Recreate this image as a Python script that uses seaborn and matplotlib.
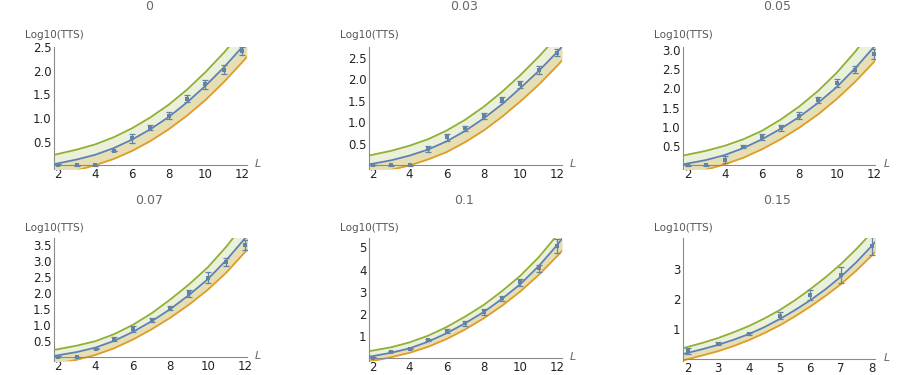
import numpy as np
import pandas as pd
import matplotlib
matplotlib.use('Agg')
import matplotlib.pyplot as plt
import seaborn as sns
from matplotlib.ticker import MultipleLocator, FormatStrFormatter

# measured points (L, log10 TTS, error)
L_pts = [2, 3, 4, 5, 6, 7, 8, 9, 10, 11, 12]
L_pts_15 = [2, 3, 4, 5, 6, 7, 8]

tts_000 = [0.01, 0.0, 0.0, 0.30, 0.57, 0.79, 1.05, 1.41, 1.71, 2.02, 2.41]
err_000 = [0.01, 0.01, 0.01, 0.01, 0.10, 0.05, 0.07, 0.08, 0.09, 0.09, 0.08]
tts_003 = [0.01, 0.0, 0.0, 0.38, 0.65, 0.86, 1.15, 1.53, 1.88, 2.21, 2.62]
err_003 = [0.01, 0.01, 0.01, 0.07, 0.08, 0.06, 0.07, 0.06, 0.09, 0.09, 0.09]
tts_005 = [0.0, 0.0, 0.15, 0.48, 0.74, 0.97, 1.29, 1.70, 2.14, 2.48, 2.89]
err_005 = [0.01, 0.01, 0.10, 0.04, 0.07, 0.09, 0.09, 0.08, 0.11, 0.09, 0.12]
tts_007 = [0.02, 0.0, 0.27, 0.56, 0.87, 1.16, 1.54, 1.99, 2.48, 2.96, 3.50]
err_007 = [0.01, 0.01, 0.03, 0.06, 0.09, 0.05, 0.06, 0.11, 0.17, 0.13, 0.16]
tts_010 = [0.03, 0.30, 0.44, 0.83, 1.23, 1.58, 2.10, 2.70, 3.43, 4.06, 5.07]
err_010 = [0.02, 0.03, 0.02, 0.05, 0.08, 0.12, 0.14, 0.12, 0.15, 0.15, 0.30]
tts_015 = [0.27, 0.50, 0.84, 1.45, 2.14, 2.80, 3.78]
err_015 = [0.10, 0.05, 0.03, 0.13, 0.17, 0.27, 0.30]

# fitted curves: upper (green), middle (blue), lower (orange)
L_curve = [1.8, 2, 3, 4, 5, 6, 7, 8, 9, 10, 11, 12, 12.25]
L_curve_15 = [1.85, 2, 2.5, 3, 3.5, 4, 4.5, 5, 5.5, 6, 6.5, 7, 7.5, 8, 8.15]

hi_000 = [0.22, 0.24, 0.33, 0.44, 0.59, 0.78, 1.01, 1.28, 1.60, 1.97, 2.38, 2.84, 2.96]
mid_000 = [0.025, 0.04, 0.12, 0.22, 0.36, 0.54, 0.76, 1.02, 1.33, 1.68, 2.07, 2.50, 2.61]
lo_000 = [-0.22, -0.20, -0.11, 0.0, 0.13, 0.30, 0.51, 0.76, 1.05, 1.38, 1.76, 2.18, 2.29]

hi_003 = [0.23, 0.25, 0.34, 0.46, 0.61, 0.81, 1.06, 1.36, 1.71, 2.10, 2.53, 3.00, 3.13]
mid_003 = [0.025, 0.04, 0.12, 0.23, 0.37, 0.56, 0.80, 1.09, 1.42, 1.80, 2.20, 2.64, 2.76]
lo_003 = [-0.23, -0.21, -0.10, 0.0, 0.14, 0.31, 0.54, 0.81, 1.13, 1.49, 1.88, 2.32, 2.44]

hi_005 = [0.26, 0.28, 0.38, 0.51, 0.68, 0.90, 1.19, 1.53, 1.93, 2.40, 2.95, 3.58, 3.74]
mid_005 = [0.03, 0.05, 0.14, 0.27, 0.45, 0.68, 0.95, 1.26, 1.62, 2.03, 2.52, 3.07, 3.22]
lo_005 = [-0.25, -0.22, -0.11, 0.03, 0.20, 0.42, 0.68, 0.98, 1.32, 1.72, 2.17, 2.68, 2.80]

hi_007 = [0.23, 0.25, 0.36, 0.50, 0.72, 1.01, 1.37, 1.80, 2.27, 2.80, 3.45, 4.20, 4.40]
mid_007 = [0.04, 0.06, 0.16, 0.30, 0.51, 0.79, 1.12, 1.50, 1.94, 2.43, 3.03, 3.71, 3.90]
lo_007 = [-0.23, -0.20, -0.08, 0.07, 0.28, 0.55, 0.87, 1.23, 1.64, 2.10, 2.64, 3.28, 3.45]

hi_010 = [0.32, 0.35, 0.50, 0.72, 1.02, 1.41, 1.88, 2.40, 3.03, 3.73, 4.57, 5.57, 5.85]
mid_010 = [0.08, 0.10, 0.25, 0.45, 0.75, 1.13, 1.58, 2.08, 2.68, 3.35, 4.17, 5.12, 5.40]
lo_010 = [-0.15, -0.12, 0.05, 0.25, 0.52, 0.87, 1.30, 1.80, 2.37, 3.02, 3.77, 4.62, 4.85]

hi_015 = [0.36, 0.40, 0.54, 0.70, 0.89, 1.10, 1.35, 1.63, 1.96, 2.33, 2.73, 3.17, 3.67, 4.22, 4.40]
mid_015 = [0.16, 0.20, 0.33, 0.47, 0.64, 0.83, 1.06, 1.33, 1.63, 1.96, 2.33, 2.75, 3.23, 3.77, 3.95]
lo_015 = [-0.05, -0.01, 0.12, 0.26, 0.43, 0.63, 0.86, 1.12, 1.42, 1.75, 2.11, 2.50, 2.95, 3.45, 3.60]

titles = ["0", "0.03", "0.05", "0.07", "0.1", "0.15"]
yticks_a = [0.5, 1.0, 1.5, 2.0, 2.5]
yticks_b = [0.5, 1.0, 1.5, 2.0, 2.5, 3.0]
yticks_c = [0.5, 1.0, 1.5, 2.0, 2.5, 3.0, 3.5]
yticks_d = [1, 2, 3, 4, 5]
yticks_e = [1, 2, 3]

GREEN, BLUE, ORANGE = '#8fb032', '#5e81b5', '#e19c24'
FILL_HI, FILL_LO = '#ebf0da', '#e6dfb3'
PT_COLOR = '#6383a6'

panels = [
    (L_pts, tts_000, err_000, L_curve, hi_000, mid_000, lo_000, (1.78, 12.24), (-0.07, 2.5), 2, 0.5, yticks_a, 0.1),
    (L_pts, tts_003, err_003, L_curve, hi_003, mid_003, lo_003, (1.82, 12.23), (-0.07, 2.75), 2, 0.5, yticks_a, 0.1),
    (L_pts, tts_005, err_005, L_curve, hi_005, mid_005, lo_005, (1.77, 12.06), (-0.08, 3.07), 2, 0.5, yticks_b, 0.1),
    (L_pts, tts_007, err_007, L_curve, hi_007, mid_007, lo_007, (1.79, 12.09), (-0.12, 3.71), 2, 0.5, yticks_c, 0.1),
    (L_pts, tts_010, err_010, L_curve, hi_010, mid_010, lo_010, (1.82, 12.23), (-0.12, 5.41), 2, 0.5, yticks_d, 0.2),
    (L_pts_15, tts_015, err_015, L_curve_15, hi_015, mid_015, lo_015, (1.86, 8.11), (-0.07, 4.03), 1, 0.2, yticks_e, 0.2),
]

sns.set_style("white")
plt.rcParams['font.family'] = ['DejaVu Sans']

W, H = 923, 375
fig = plt.figure(figsize=(W / 100, H / 100), dpi=100)

col_left = [54.3, 369.3, 683.3]
col_right = [246.7, 561.7, 875.0]
row_top = [47.0, 238.3]
row_bottom = [168.5, 361.0]
title_x = [149, 464, 777]
title_y = [7, 200]
ylab_y = [35, 228]

for i, (Lp, yv, ev, Lc, hi, mid, lo, xl, yl, xmaj, xmin, yt, ymin) in enumerate(panels):
    r, c = divmod(i, 3)
    l, rt = col_left[c], col_right[c]
    t, b = row_top[r], row_bottom[r]
    ax = fig.add_axes([l / W, 1 - b / H, (rt - l) / W, (b - t) / H])

    curves = pd.DataFrame({'L': Lc, 'hi': hi, 'mid': mid, 'lo': lo})
    ax.fill_between(curves['L'], curves['mid'], curves['hi'], color=FILL_HI, lw=0, zorder=1)
    ax.fill_between(curves['L'], curves['lo'], curves['mid'], color=FILL_LO, lw=0, zorder=1)
    sns.lineplot(data=curves, x='L', y='hi', color=GREEN, lw=1.3, ax=ax, zorder=2)
    sns.lineplot(data=curves, x='L', y='lo', color=ORANGE, lw=1.3, ax=ax, zorder=2)
    sns.lineplot(data=curves, x='L', y='mid', color=BLUE, lw=1.3, ax=ax, zorder=3)

    pts = pd.DataFrame({'L': Lp, 'tts': yv, 'err': ev})
    ax.errorbar(pts['L'], pts['tts'], yerr=pts['err'], fmt='none', ecolor=PT_COLOR,
                elinewidth=0.9, capsize=2.5, capthick=0.9, zorder=4)
    sns.scatterplot(data=pts, x='L', y='tts', color=PT_COLOR, s=12, marker='s',
                    linewidth=0, ax=ax, zorder=5)

    ax.set_xlim(*xl)
    ax.set_ylim(*yl)
    ax.set_xlabel("")
    ax.set_ylabel("")
    ax.set_facecolor('none')

    for s in ['top', 'right']:
        ax.spines[s].set_visible(False)
    ax.spines['bottom'].set_position(('data', 0))
    for s in ['left', 'bottom']:
        ax.spines[s].set_color('#8a8a8a')
        ax.spines[s].set_linewidth(0.8)

    ax.xaxis.set_major_locator(MultipleLocator(xmaj))
    ax.xaxis.set_minor_locator(MultipleLocator(xmin))
    ax.set_yticks(yt)
    ax.yaxis.set_minor_locator(MultipleLocator(ymin))
    if yt[0] < 1:
        ax.yaxis.set_major_formatter(FormatStrFormatter('%.1f'))
    else:
        ax.yaxis.set_major_formatter(FormatStrFormatter('%d'))
    ax.tick_params(which='major', direction='in', length=3.5, width=0.7, color='#8a8a8a',
                   labelsize=8.5, labelcolor='#222222', pad=2)
    ax.tick_params(which='minor', direction='in', length=2, width=0.6, color='#8a8a8a')

    ax.annotate("L", xy=(1, 0), xycoords=ax.get_yaxis_transform(), xytext=(6, 1),
                textcoords='offset points', ha='left', va='center', style='italic',
                fontsize=8, color='#666666')
    fig.text(l / W, 1 - ylab_y[r] / H, "Log10(TTS)", ha='center', va='center',
             fontsize=7.5, color='#555555')
    fig.text(title_x[c] / W, 1 - title_y[r] / H, titles[i], ha='center', va='center',
             fontsize=9, color='#666666')

plt.savefig("out.png", dpi=100)
plt.close()
